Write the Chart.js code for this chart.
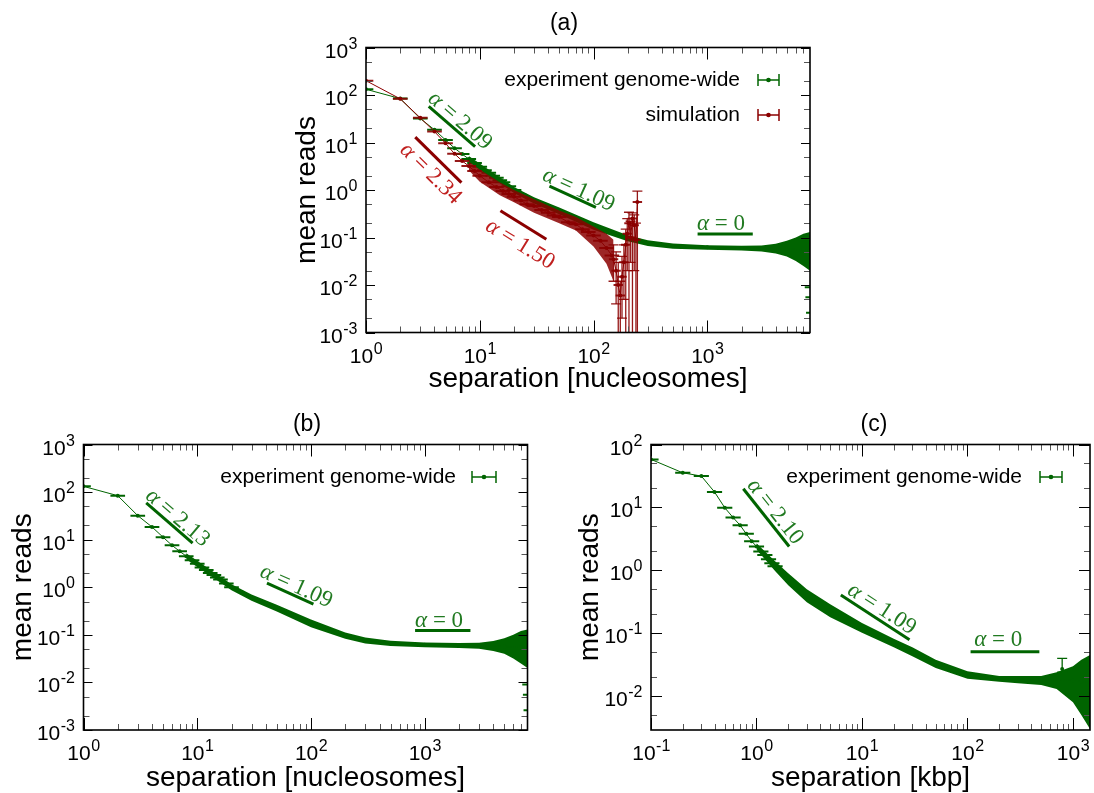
<!DOCTYPE html>
<html>
<head>
<meta charset="utf-8">
<title>mean reads vs separation</title>
<script src="https://cdn.jsdelivr.net/npm/chart.js@4.4.1/dist/chart.umd.min.js"></script>
<style>
  html, body { margin: 0; padding: 0; background: #fff; }
  #wrap { position: relative; width: 1094px; height: 793px; overflow: hidden; }
  #wrap canvas { position: absolute; left: 0; top: 0; }
</style>
</head>
<body>
<div id="wrap">
  <canvas id="chart-a" width="1094" height="793"></canvas>
  <canvas id="chart-b" width="1094" height="793"></canvas>
  <canvas id="chart-c" width="1094" height="793"></canvas>
</div>
<script>
// ========== DATA ==========

// experiment genome-wide, separation in nucleosomes (panels a and b)
const expX = [1, 2, 3, 4, 5, 6, 7, 8, 9, 10, 11, 12, 13, 14, 15, 16, 18, 20, 22, 25, 30, 40, 50, 70, 100, 150, 200, 300, 500, 1000, 2000, 3000, 5000, 7000, 8000];
const expY = [132, 84, 32, 18.5, 11.3, 7.6, 5.7, 4.5, 3.7, 3.1, 2.6, 2.3, 2.0, 1.8, 1.6, 1.45, 1.2, 1.0, 0.9, 0.78, 0.6, 0.45, 0.37, 0.26, 0.18, 0.12, 0.097, 0.077, 0.066, 0.062, 0.06, 0.059, 0.057, 0.055, 0.05];
// spread of the dense part of the curve
const expBandX = [8, 10, 15, 20, 30, 50, 100, 200, 300, 500, 1000, 2000, 3000, 4000, 5000, 6000, 7000, 8000];
const expBandHi = [5.2, 3.6, 1.85, 1.15, 0.7, 0.43, 0.21, 0.112, 0.088, 0.075, 0.069, 0.067, 0.068, 0.074, 0.085, 0.1, 0.12, 0.13];
const expBandLo = [3.9, 2.65, 1.38, 0.86, 0.52, 0.31, 0.145, 0.083, 0.066, 0.058, 0.055, 0.053, 0.051, 0.046, 0.04, 0.032, 0.025, 0.02];
const expTailX = [7700, 7800, 7900];
const expTailY = [0.009, 0.0055, 0.0026];

// simulation (panel a)
const simX = [1, 2, 3, 4, 5, 6, 7, 8, 9, 10, 12, 14, 16, 18, 20, 23, 26, 30, 35, 40, 45, 50, 60, 70, 80, 90, 100, 115, 130, 145];
const simY = [200, 83, 33, 17, 9.6, 5.8, 4.1, 3.2, 2.5, 2.0, 1.45, 1.15, 0.95, 0.82, 0.72, 0.6, 0.5, 0.46, 0.38, 0.33, 0.29, 0.27, 0.21, 0.19, 0.15, 0.13, 0.11, 0.085, 0.06, 0.042];
const simBandX = [8, 10, 15, 20, 30, 50, 70, 100, 130, 150];
const simBandHi = [4.0, 2.7, 1.45, 1.0, 0.64, 0.37, 0.27, 0.17, 0.12, 0.09];
const simBandLo = [2.6, 1.5, 0.78, 0.55, 0.33, 0.2, 0.14, 0.065, 0.028, 0.012];
const simTailX = [150, 158, 165, 172, 178, 185, 192, 198, 205, 212, 220, 228, 236, 243];
const simTailY = [0.035, 0.02, 0.01, 0.006, 0.015, 0.03, 0.07, 0.12, 0.2, 0.1, 0.25, 0.18, 0.09, 0.56];
const simTailHi = [0.07, 0.05, 0.03, 0.012, 0.04, 0.07, 0.15, 0.25, 0.34, 0.22, 0.33, 0.3, 0.2, 0.95];
const simTailLo = [0.012, 0.004, 0.0002, 0.0002, 0.002, 0.005, 0.0002, 0.02, 0.0002, 0.03, 0.0002, 0.02, 0.0002, 0.0002];

// experiment genome-wide, separation in kbp (panel c)
const kbpX = [0.1, 0.2, 0.3, 0.4, 0.5, 0.6, 0.7, 0.8, 0.9, 1.0, 1.1, 1.2, 1.3, 1.4, 1.5, 1.7, 2, 2.5, 3, 4, 5, 7, 10, 15, 20, 30, 50, 100, 200, 300, 500, 800, 1000, 1200, 1450];
const kbpY = [58, 35.5, 31.5, 17.6, 9.9, 6.9, 5.2, 3.8, 2.9, 2.4, 2.0, 1.75, 1.5, 1.3, 1.16, 0.95, 0.72, 0.52, 0.4, 0.29, 0.23, 0.17, 0.122, 0.088, 0.07, 0.051, 0.033, 0.022, 0.019, 0.0185, 0.0182, 0.018, 0.0178, 0.017, 0.016];
const kbpBandX = [1, 1.5, 2, 3, 5, 10, 20, 30, 50, 100, 200, 300, 500, 700, 1000, 1200, 1450];
const kbpBandHi = [2.7, 1.4, 0.9, 0.5, 0.29, 0.145, 0.082, 0.06, 0.038, 0.025, 0.021, 0.021, 0.021, 0.024, 0.03, 0.038, 0.045];
const kbpBandLo = [2.15, 0.98, 0.58, 0.31, 0.18, 0.102, 0.06, 0.043, 0.028, 0.019, 0.017, 0.016, 0.015, 0.013, 0.008, 0.005, 0.003];
const kbpOutX = [790];
const kbpOutY = [0.027];
const kbpOutHi = [0.04];
const kbpOutLo = [0.024];

// power-law guide lines: [x1, x2] and [y1, y2]
const aFitX = [[3.56, 9.1], [2.71, 6.9], [41, 105], [15.2, 38.5], [822, 2512]];
const aFitY = [[57.6, 8.2], [13, 1.43], [1.2, 0.43], [0.366, 0.092], [0.118, 0.118]];
const aAlphaText = ['2.09', '2.34', '1.09', '1.50', '0'];
const aAlphaX = [6.7, 3.7, 74, 22.6, 1320];
const aAlphaY = [28.5, 2.2, 1.0, 0.072, 0.19];

const bFitX = [[3.56, 9.1], [41, 105], [822, 2520]];
const bFitY = [[59, 8.5], [1.22, 0.44], [0.123, 0.123]];
const bAlphaText = ['2.13', '1.09', '0'];
const bAlphaX = [6.7, 74, 1336];
const bAlphaY = [28.6, 1.04, 0.197];

const cFitX = [[0.75, 2.04], [6.3, 28.2], [107, 480]];
const cFitY = [[19.8, 2.39], [0.405, 0.079], [0.051, 0.051]];
const cAlphaText = ['2.10', '1.09', '0'];
const cAlphaX = [1.5, 15.4, 196];
const cAlphaY = [8.5, 0.243, 0.0794];

// tick labels
const nucXTicks = [1, 10, 100, 1000];
const nucYTicks = [1e-3, 1e-2, 1e-1, 1, 10, 100, 1000];
const kbpXTicks = [0.1, 1, 10, 100, 1000];
const kbpYTicks = [1e-2, 1e-1, 1, 10, 100];
const X_MINOR = [2, 3, 4, 5, 6, 7, 8, 9];
const Y_MINOR = [2, 5];

// ========== STYLE ==========

const W = 1094, H = 793;
const GREEN = '#006400';
const RED = '#8b0000';
const GREEN_TEXT = '#217a21';
const RED_TEXT = '#c0201f';
const SANS = '"Liberation Sans", Arial, sans-serif';
const SERIF = '"Liberation Serif", "DejaVu Serif", serif';

// ========== HELPERS ==========

function pts(xs, ys) {
  return xs.map((x, i) => ({ x, y: ys[i] }));
}

function seg(ctx, x1, y1, x2, y2) {
  ctx.beginPath();
  ctx.moveTo(x1, y1);
  ctx.lineTo(x2, y2);
  ctx.stroke();
}

function band(xs, hi, lo, color, order) {
  return [
    { data: pts(xs, hi), borderWidth: 0, pointRadius: 0, backgroundColor: color, fill: '+1', order },
    { data: pts(xs, lo), borderWidth: 0, pointRadius: 0, fill: false, order },
  ];
}

function series(xs, ys, color, order, extra) {
  return Object.assign({
    data: pts(xs, ys),
    borderColor: color,
    borderWidth: 1,
    pointRadius: 2,
    pointBorderWidth: 0,
    pointBackgroundColor: color,
    fill: false,
    order,
  }, extra || {});
}

function fitSets(fx, fy, colors) {
  return fx.map((pair, i) => ({
    data: pts(pair, fy[i]),
    borderColor: colors[i],
    borderWidth: 3,
    pointRadius: 0,
    fill: false,
    order: 1,
  }));
}

function logTicks(min, max, minors) {
  const out = [];
  for (let d = Math.floor(Math.log10(min)); d <= Math.ceil(Math.log10(max)); d++) {
    const base = Math.pow(10, d);
    if (base >= min * 0.999 && base <= max * 1.001) out.push({ v: base, major: true });
    minors.forEach(m => {
      const v = m * base;
      if (v > min && v < max) out.push({ v, major: false });
    });
  }
  return out;
}

function drawPow(ctx, v, x, y, align) {
  const exp = String(Math.round(Math.log10(v)));
  ctx.font = '21px ' + SANS;
  const wb = ctx.measureText('10').width;
  ctx.font = '16px ' + SANS;
  const we = ctx.measureText(exp).width;
  const x0 = align === 'right' ? x - wb - we : x - (wb + we) / 2;
  ctx.textAlign = 'left';
  ctx.textBaseline = 'alphabetic';
  ctx.font = '21px ' + SANS;
  ctx.fillText('10', x0, y);
  ctx.font = '16px ' + SANS;
  ctx.fillText(exp, x0 + wb + 0.5, y - 9);
}

function drawAlpha(ctx, text, cx, cy, angle, color) {
  ctx.save();
  ctx.translate(cx, cy);
  ctx.rotate(angle);
  ctx.fillStyle = color;
  ctx.textBaseline = 'middle';
  ctx.textAlign = 'left';
  ctx.font = 'italic 23px ' + SERIF;
  const wa = ctx.measureText('α').width;
  const rest = ' = ' + text;
  ctx.font = '23px ' + SERIF;
  const wr = ctx.measureText(rest).width;
  const x0 = -(wa + wr) / 2;
  ctx.font = 'italic 23px ' + SERIF;
  ctx.fillText('α', x0, 0);
  ctx.font = '23px ' + SERIF;
  ctx.fillText(rest, x0 + wa, 0);
  ctx.restore();
}

// ========== PLUGINS ==========

// horizontal (bin) and vertical error bars, drawn right after their dataset
const errorBars = {
  id: 'errorBars',
  afterDatasetDraw(chart, args) {
    const ds = chart.data.datasets[args.index];
    if (!ds.xBar && !ds.yHi) return;
    const { ctx, chartArea: a } = chart;
    const xs = chart.scales.x, ys = chart.scales.y;
    ctx.save();
    ctx.beginPath();
    ctx.rect(a.left, a.top, a.right - a.left, a.bottom - a.top);
    ctx.clip();
    ctx.strokeStyle = ds.barColor || ds.borderColor;
    ds.data.forEach((p, i) => {
      const px = xs.getPixelForValue(p.x);
      const py = ys.getPixelForValue(p.y);
      if (ds.xBar && p.x <= ds.xBarMax) {
        const l = xs.getPixelForValue(p.x / ds.xBar);
        const r = xs.getPixelForValue(p.x * ds.xBar);
        ctx.lineWidth = 2;
        seg(ctx, l, py, r, py);
      }
      if (ds.yHi) {
        const t = ys.getPixelForValue(ds.yHi[i]);
        const b = ys.getPixelForValue(ds.yLo[i]);
        ctx.lineWidth = 1.3;
        seg(ctx, px, t, px, b);
        seg(ctx, px - 5, t, px + 5, t);
        seg(ctx, px - 5, b, px + 5, b);
      }
    });
    ctx.restore();
  }
};

function drawFrame(chart, s) {
  const { ctx, chartArea: a } = chart;
  const xs = chart.scales.x, ys = chart.scales.y;
  ctx.save();

  // inward ticks on all four sides
  ctx.lineWidth = 1;
  logTicks(s.xMin, s.xMax, X_MINOR).forEach(t => {
    const px = Math.round(xs.getPixelForValue(t.v)) + 0.5;
    const len = t.major ? 12 : 6;
    ctx.strokeStyle = t.major ? '#000' : '#555';
    seg(ctx, px, a.bottom, px, a.bottom - len);
    seg(ctx, px, a.top, px, a.top + len);
  });
  logTicks(s.yMin, s.yMax, Y_MINOR).forEach(t => {
    const py = Math.round(ys.getPixelForValue(t.v)) + 0.5;
    const len = t.major ? s.yMajorLen : 6;
    ctx.strokeStyle = t.major ? '#000' : '#555';
    seg(ctx, a.left, py, a.left + len, py);
    seg(ctx, a.right, py, a.right - len, py);
  });
  ctx.strokeStyle = '#000';
  ctx.lineWidth = 1.6;
  ctx.strokeRect(a.left, a.top, a.right - a.left, a.bottom - a.top);

  // tick labels
  ctx.fillStyle = '#000';
  s.xTicks.forEach(v => drawPow(ctx, v, xs.getPixelForValue(v), a.bottom + 30, 'center'));
  s.yTicks.forEach(v => drawPow(ctx, v, a.left - 9, ys.getPixelForValue(v) + 10, 'right'));

  // panel title and axis titles
  ctx.textAlign = 'center';
  ctx.textBaseline = 'alphabetic';
  ctx.font = '23px ' + SANS;
  ctx.fillText(s.title, s.titlePos[0], s.titlePos[1]);
  ctx.font = '28px ' + SANS;
  ctx.fillText(s.xTitle, (a.left + a.right) / 2, s.xTitleY);
  ctx.save();
  ctx.translate(s.yTitleX, (a.top + a.bottom) / 2);
  ctx.rotate(-Math.PI / 2);
  ctx.textBaseline = 'middle';
  ctx.fillText('mean reads', 0, 0);
  ctx.restore();

  // legend
  s.legend.forEach(e => {
    ctx.font = '21px ' + SANS;
    ctx.textAlign = 'right';
    ctx.textBaseline = 'middle';
    ctx.fillStyle = '#000';
    ctx.fillText(e.text, s.legendRight, e.y);
    const [l, r] = s.legendSym;
    ctx.strokeStyle = e.color;
    ctx.lineWidth = 1.5;
    seg(ctx, l, e.y, r, e.y);
    seg(ctx, l, e.y - 6, l, e.y + 6);
    seg(ctx, r, e.y - 6, r, e.y + 6);
    ctx.fillStyle = e.color;
    ctx.beginPath();
    ctx.arc((l + r) / 2, e.y, 2.3, 0, Math.PI * 2);
    ctx.fill();
  });

  // exponent labels along the guide lines
  s.alphaText.forEach((txt, i) => {
    const fx = s.fitX[i], fy = s.fitY[i];
    const x1 = xs.getPixelForValue(fx[0]), x2 = xs.getPixelForValue(fx[1]);
    const y1 = ys.getPixelForValue(fy[0]), y2 = ys.getPixelForValue(fy[1]);
    const ang = Math.atan2(y2 - y1, x2 - x1);
    const col = s.fitColors[i] === RED ? RED_TEXT : GREEN_TEXT;
    drawAlpha(ctx, txt, xs.getPixelForValue(s.alphaX[i]), ys.getPixelForValue(s.alphaY[i]), ang, col);
  });

  ctx.restore();
}

function makePanel(id, s) {
  return new Chart(document.getElementById(id), {
    type: 'line',
    data: { datasets: s.datasets },
    options: {
      responsive: false,
      animation: false,
      events: [],
      layout: { padding: { left: s.box[0], top: s.box[1], right: W - s.box[2], bottom: H - s.box[3] } },
      plugins: { legend: { display: false }, tooltip: { enabled: false } },
      scales: {
        x: { type: 'logarithmic', min: s.xMin, max: s.xMax, display: false },
        y: { type: 'logarithmic', min: s.yMin, max: s.yMax, display: false },
      },
    },
    plugins: [errorBars, { id: 'frame', afterDraw: chart => drawFrame(chart, s) }],
  });
}

// ========== PANELS ==========

const aFitColors = [GREEN, RED, GREEN, RED, GREEN];
makePanel('chart-a', {
  box: [366, 47.5, 810, 332.5],
  xMin: 1, xMax: 8000, yMin: 1e-3, yMax: 1e3, yMajorLen: 9,
  xTicks: nucXTicks, yTicks: nucYTicks,
  title: '(a)', titlePos: [564, 30],
  xTitle: 'separation [nucleosomes]', xTitleY: 387, yTitleX: 307,
  legend: [
    { text: 'experiment genome-wide', color: GREEN, y: 80 },
    { text: 'simulation', color: RED, y: 115 },
  ],
  legendRight: 740, legendSym: [758, 779],
  fitX: aFitX, fitY: aFitY, fitColors: aFitColors,
  alphaText: aAlphaText, alphaX: aAlphaX, alphaY: aAlphaY,
  datasets: [
    ...band(expBandX, expBandHi, expBandLo, GREEN, 20),
    series(expX, expY, GREEN, 19, { xBar: 1.16, xBarMax: 20 }),
    series(expTailX, expTailY, GREEN, 19, { showLine: false, pointRadius: 0, xBar: 1.07, xBarMax: 1e9 }),
    ...band(simBandX, simBandHi, simBandLo, 'rgba(139,0,0,0.85)', 18),
    series(simX, simY, RED, 17, { xBar: 1.16, xBarMax: 1e9, barColor: 'rgba(139,0,0,0.9)' }),
    series(simTailX, simTailY, RED, 16, { xBar: 1.1, xBarMax: 1e9, yHi: simTailHi, yLo: simTailLo, barColor: 'rgba(139,0,0,0.9)' }),
    ...fitSets(aFitX, aFitY, aFitColors),
  ],
});

const bFitColors = [GREEN, GREEN, GREEN];
makePanel('chart-b', {
  box: [83.5, 444.5, 527.5, 730],
  xMin: 1, xMax: 8000, yMin: 1e-3, yMax: 1e3, yMajorLen: 9,
  xTicks: nucXTicks, yTicks: nucYTicks,
  title: '(b)', titlePos: [307, 431],
  xTitle: 'separation [nucleosomes]', xTitleY: 786, yTitleX: 23,
  legend: [{ text: 'experiment genome-wide', color: GREEN, y: 477 }],
  legendRight: 456, legendSym: [472, 496],
  fitX: bFitX, fitY: bFitY, fitColors: bFitColors,
  alphaText: bAlphaText, alphaX: bAlphaX, alphaY: bAlphaY,
  datasets: [
    ...band(expBandX, expBandHi, expBandLo, GREEN, 20),
    series(expX, expY, GREEN, 19, { xBar: 1.16, xBarMax: 20 }),
    series(expTailX, expTailY, GREEN, 19, { showLine: false, pointRadius: 0, xBar: 1.07, xBarMax: 1e9 }),
    ...fitSets(bFitX, bFitY, bFitColors),
  ],
});

const cFitColors = [GREEN, GREEN, GREEN];
makePanel('chart-c', {
  box: [651, 444.5, 1092, 730],
  xMin: 0.1, xMax: 1450, yMin: 0.0029, yMax: 100, yMajorLen: 11,
  xTicks: kbpXTicks, yTicks: kbpYTicks,
  title: '(c)', titlePos: [874, 431],
  xTitle: 'separation [kbp]', xTitleY: 786, yTitleX: 590,
  legend: [{ text: 'experiment genome-wide', color: GREEN, y: 477 }],
  legendRight: 1022, legendSym: [1040, 1062],
  fitX: cFitX, fitY: cFitY, fitColors: cFitColors,
  alphaText: cAlphaText, alphaX: cAlphaX, alphaY: cAlphaY,
  datasets: [
    ...band(kbpBandX, kbpBandHi, kbpBandLo, GREEN, 20),
    series(kbpX, kbpY, GREEN, 19, { xBar: 1.18, xBarMax: 1.5 }),
    series(kbpOutX, kbpOutY, GREEN, 18, { showLine: false, yHi: kbpOutHi, yLo: kbpOutLo }),
    ...fitSets(cFitX, cFitY, cFitColors),
  ],
});
</script>
</body>
</html>
